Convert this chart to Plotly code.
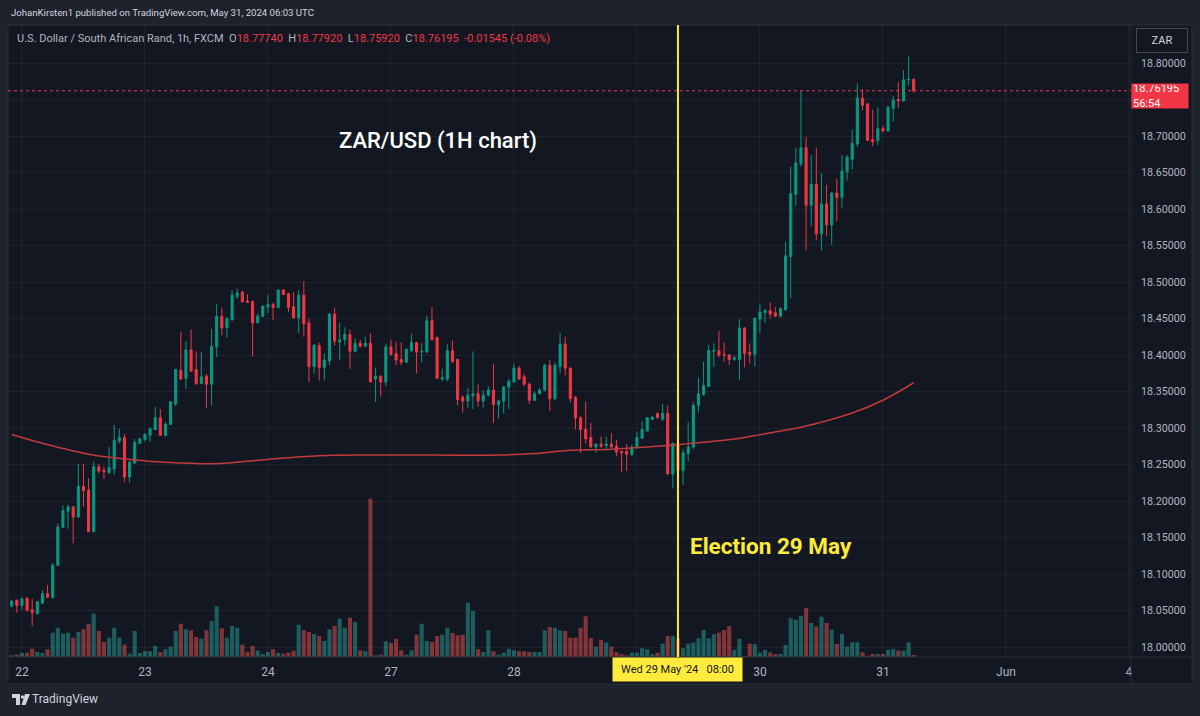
import plotly.graph_objects as go

# ---------------- data ----------------
open_ = [18.056, 18.064, 18.057, 18.067, 18.051, 18.046, 18.060, 18.073, 18.068, 18.112,
         18.164, 18.186, 18.192, 18.178, 18.220, 18.215, 18.158, 18.247, 18.242, 18.239,
         18.244, 18.282, 18.287, 18.233, 18.252, 18.279, 18.284, 18.290, 18.298, 18.314,
         18.290, 18.305, 18.333, 18.379, 18.368, 18.407, 18.380, 18.361, 18.371, 18.360,
         18.411, 18.453, 18.437, 18.448, 18.480, 18.486, 18.474, 18.473, 18.444, 18.453,
         18.466, 18.469, 18.465, 18.489, 18.484, 18.466, 18.451, 18.482, 18.444, 18.384,
         18.413, 18.383, 18.392, 18.456, 18.418, 18.421, 18.428, 18.405, 18.416, 18.412,
         18.416, 18.367, 18.371, 18.363, 18.411, 18.402, 18.394, 18.390, 18.406, 18.417,
         18.404, 18.404, 18.447, 18.424, 18.367, 18.367, 18.406, 18.394, 18.342, 18.337,
         18.344, 18.347, 18.337, 18.345, 18.352, 18.332, 18.337, 18.356, 18.363, 18.382,
         18.370, 18.360, 18.338, 18.347, 18.352, 18.386, 18.340, 18.384, 18.415, 18.382,
         18.342, 18.314, 18.298, 18.287, 18.274, 18.278, 18.276, 18.278, 18.275, 18.268,
         18.268, 18.264, 18.273, 18.286, 18.296, 18.312, 18.320, 18.312, 18.320, 18.237,
         18.279, 18.242, 18.265, 18.274, 18.331, 18.346, 18.357, 18.405, 18.406, 18.401,
         18.400, 18.394, 18.394, 18.437, 18.404, 18.401, 18.449, 18.458, 18.461, 18.458,
         18.453, 18.462, 18.535, 18.620, 18.662, 18.684, 18.605, 18.634, 18.566, 18.607,
         18.578, 18.622, 18.616, 18.651, 18.668, 18.689, 18.752, 18.744, 18.695, 18.694,
         18.710, 18.707, 18.738, 18.750, 18.748, 18.777, 18.7774]
high_ = [18.065, 18.065, 18.068, 18.068, 18.066, 18.063, 18.078, 18.085, 18.115, 18.169,
         18.194, 18.195, 18.193, 18.251, 18.251, 18.231, 18.254, 18.251, 18.247, 18.274,
         18.304, 18.299, 18.292, 18.255, 18.285, 18.287, 18.293, 18.301, 18.329, 18.326,
         18.308, 18.337, 18.381, 18.432, 18.419, 18.435, 18.405, 18.404, 18.374, 18.436,
         18.470, 18.465, 18.452, 18.489, 18.491, 18.488, 18.483, 18.475, 18.457, 18.468,
         18.482, 18.472, 18.490, 18.490, 18.485, 18.486, 18.489, 18.501, 18.450, 18.415,
         18.417, 18.402, 18.457, 18.465, 18.444, 18.438, 18.435, 18.423, 18.421, 18.425,
         18.430, 18.383, 18.372, 18.415, 18.421, 18.418, 18.417, 18.409, 18.429, 18.418,
         18.416, 18.454, 18.466, 18.425, 18.381, 18.415, 18.420, 18.395, 18.345, 18.355,
         18.405, 18.360, 18.352, 18.357, 18.388, 18.339, 18.358, 18.367, 18.388, 18.385,
         18.374, 18.362, 18.350, 18.355, 18.388, 18.393, 18.390, 18.430, 18.425, 18.383,
         18.344, 18.316, 18.336, 18.307, 18.279, 18.288, 18.288, 18.293, 18.284, 18.269,
         18.278, 18.277, 18.295, 18.309, 18.315, 18.316, 18.321, 18.333, 18.331, 18.280,
         18.300, 18.271, 18.308, 18.336, 18.369, 18.391, 18.414, 18.416, 18.433, 18.417,
         18.401, 18.399, 18.449, 18.438, 18.416, 18.452, 18.470, 18.463, 18.472, 18.466,
         18.465, 18.555, 18.658, 18.684, 18.762, 18.698, 18.674, 18.684, 18.649, 18.633,
         18.623, 18.641, 18.674, 18.674, 18.709, 18.772, 18.764, 18.745, 18.736, 18.739,
         18.714, 18.742, 18.755, 18.774, 18.790, 18.809, 18.7792]
low_ = [18.054, 18.047, 18.051, 18.049, 18.029, 18.044, 18.059, 18.067, 18.066, 18.111,
        18.163, 18.162, 18.142, 18.177, 18.192, 18.158, 18.157, 18.238, 18.230, 18.237,
        18.236, 18.279, 18.226, 18.225, 18.251, 18.278, 18.282, 18.281, 18.297, 18.290,
        18.288, 18.304, 18.330, 18.366, 18.354, 18.377, 18.359, 18.360, 18.327, 18.331,
        18.397, 18.427, 18.424, 18.447, 18.477, 18.472, 18.472, 18.398, 18.443, 18.452,
        18.457, 18.448, 18.464, 18.482, 18.459, 18.450, 18.430, 18.425, 18.363, 18.374,
        18.365, 18.365, 18.386, 18.413, 18.393, 18.413, 18.381, 18.404, 18.410, 18.411,
        18.363, 18.336, 18.343, 18.357, 18.399, 18.386, 18.386, 18.389, 18.404, 18.375,
        18.390, 18.403, 18.420, 18.368, 18.364, 18.364, 18.389, 18.331, 18.321, 18.327,
        18.326, 18.329, 18.328, 18.343, 18.307, 18.313, 18.320, 18.326, 18.362, 18.366,
        18.357, 18.333, 18.337, 18.346, 18.350, 18.323, 18.338, 18.375, 18.372, 18.335,
        18.298, 18.266, 18.279, 18.273, 18.266, 18.273, 18.269, 18.273, 18.261, 18.239,
        18.241, 18.261, 18.272, 18.285, 18.295, 18.311, 18.313, 18.310, 18.237, 18.217,
        18.239, 18.222, 18.254, 18.271, 18.321, 18.344, 18.356, 18.384, 18.397, 18.391,
        18.386, 18.392, 18.366, 18.383, 18.388, 18.384, 18.430, 18.444, 18.450, 18.452,
        18.452, 18.461, 18.478, 18.604, 18.658, 18.544, 18.577, 18.557, 18.543, 18.563,
        18.551, 18.583, 18.602, 18.639, 18.654, 18.685, 18.735, 18.693, 18.686, 18.688,
        18.705, 18.706, 18.720, 18.738, 18.747, 18.769, 18.7592]
close_ = [18.063, 18.057, 18.066, 18.050, 18.047, 18.062, 18.073, 18.068, 18.112, 18.164,
          18.187, 18.192, 18.178, 18.220, 18.214, 18.158, 18.247, 18.241, 18.240, 18.246,
          18.283, 18.287, 18.233, 18.253, 18.280, 18.285, 18.291, 18.299, 18.314, 18.290,
          18.305, 18.336, 18.380, 18.367, 18.407, 18.378, 18.361, 18.370, 18.360, 18.412,
          18.453, 18.437, 18.450, 18.482, 18.485, 18.473, 18.472, 18.444, 18.453, 18.467,
          18.469, 18.465, 18.489, 18.483, 18.465, 18.451, 18.482, 18.443, 18.384, 18.413,
          18.383, 18.393, 18.456, 18.419, 18.421, 18.428, 18.405, 18.416, 18.412, 18.416,
          18.363, 18.371, 18.363, 18.411, 18.401, 18.393, 18.390, 18.408, 18.417, 18.404,
          18.405, 18.447, 18.421, 18.368, 18.369, 18.406, 18.391, 18.339, 18.337, 18.345,
          18.347, 18.337, 18.345, 18.352, 18.332, 18.337, 18.356, 18.364, 18.382, 18.367,
          18.360, 18.338, 18.347, 18.352, 18.386, 18.340, 18.386, 18.415, 18.382, 18.340,
          18.314, 18.298, 18.285, 18.274, 18.278, 18.275, 18.278, 18.274, 18.267, 18.266,
          18.264, 18.274, 18.287, 18.298, 18.314, 18.315, 18.314, 18.320, 18.237, 18.279,
          18.242, 18.266, 18.274, 18.331, 18.347, 18.358, 18.406, 18.406, 18.400, 18.400,
          18.394, 18.396, 18.437, 18.402, 18.401, 18.450, 18.459, 18.461, 18.456, 18.453,
          18.464, 18.536, 18.621, 18.663, 18.684, 18.605, 18.634, 18.566, 18.607, 18.578,
          18.622, 18.616, 18.652, 18.671, 18.690, 18.752, 18.742, 18.694, 18.692, 18.710,
          18.707, 18.739, 18.749, 18.748, 18.777, 18.7774, 18.76195]
volume = [1.7, 2.3, 4, 4.3, 8.3, 5, 4, 7.7, 24.3, 29.3,
          23.3, 24.3, 19.3, 25, 27.7, 33.3, 43.3, 26, 15, 19.3,
          29.3, 19.3, 12.3, 3.3, 26, 4, 6, 5.7, 11, 5,
          7.7, 10.3, 26, 33.3, 27.7, 26.7, 20, 18.3, 26.7, 36,
          50.7, 28.7, 19.3, 31, 29.3, 12.3, 5, 11, 6.3, 3,
          5, 7.7, 4, 3.3, 4.3, 6.3, 32.3, 26.7, 25, 23,
          21, 16, 27.7, 31, 38.3, 29.3, 39.3, 35, 6.7, 5.7,
          158.3, 1.7, 2.3, 15.7, 14, 18.3, 6.7, 2.3, 6.7, 22.3,
          33.3, 16, 15, 21, 22.3, 29.3, 24, 21.7, 22.3, 54.3,
          46, 7.7, 5, 26.7, 5.7, 2.3, 4.3, 8.3, 6.7, 5.7,
          5.7, 5, 5, 5, 26.7, 30, 29.3, 26.7, 26, 19.3,
          19.3, 29.3, 40.7, 19, 10.3, 17.3, 14.7, 10.3, 4.7, 2.7,
          1.7, 4.3, 4.3, 8.7, 7.7, 2.7, 4.3, 13.3, 21, 21,
          18.7, 8.7, 13.3, 14.3, 18.7, 27, 18.7, 22.7, 24.3, 27,
          31, 7, 18.3, 1, 13.3, 12.7, 4.3, 7, 4.5, 3,
          3, 12, 38.7, 37.3, 41, 49, 34, 30.3, 40.3, 34,
          27.3, 13, 23, 10.3, 14.7, 14.7, 4.7, 1.3, 3, 3,
          3, 7.3, 8, 6.3, 6.3, 14.7, 2]
ma_index = [0, 6, 15, 24, 30, 39, 43, 50, 60, 70, 95, 102, 108, 117, 130, 136, 143,
            150, 154, 164, 170, 176]
ma_value = [18.291, 18.279, 18.264, 18.256, 18.253, 18.251, 18.2525, 18.257, 18.262,
            18.263, 18.263, 18.265, 18.269, 18.271, 18.277, 18.281, 18.287, 18.296,
            18.301, 18.3205, 18.338, 18.362]
day_tick_index = [2, 26, 50, 74, 98, 122, 146, 170, 194, 218]
day_tick_label = ['22', '23', '24', '27', '28', '', '30', '31', 'Jun', '4']  # '29' hidden under the yellow marker label
price_tick_values = [18.00, 18.05, 18.10, 18.15, 18.20, 18.25, 18.30, 18.35, 18.40,
                     18.45, 18.50, 18.55, 18.60, 18.65, 18.70, 18.75, 18.80]
price_tick_hidden = [18.75]  # covered by the current-price tag
election_index = 130

# ---------------- style / layout constants ----------------
W, H = 1200, 716
ML, MR, MT, MB = 8, 69, 25, 59
PW, PH = W - ML - MR, H - MT - MB
BG = '#131722'
FRAME = '#1e222d'
BORDER = '#2a2e39'
GRID = '#1f2330'
UP = '#089981'
DOWN = '#f23645'
TXT = '#d1d4dc'
AX = '#b2b5be'
YEL = '#ffeb3b'
FONT = 'Roboto, Arial, sans-serif'


def px(xp):
    return (xp - ML) / PW


def py(yp):
    return (MT + PH - yp) / PH


def path_px(d):
    out = []
    for t in d.split():
        if ',' in t:
            a, b = t.split(',')
            out.append(f'{px(float(a)):.5f},{py(float(b)):.5f}')
        else:
            out.append(t)
    return ' '.join(out)


idx = list(range(len(open_)))
vol_colors = ['rgba(38,166,154,0.5)' if c >= o else 'rgba(239,83,80,0.5)'
              for o, c in zip(open_, close_)]

fig = go.Figure()
fig.add_trace(go.Bar(x=idx, y=volume, marker=dict(color=vol_colors, line=dict(width=0)),
                     width=0.8, yaxis='y', showlegend=False, hoverinfo='skip'))
fig.add_trace(go.Scatter(x=ma_index, y=ma_value, mode='lines', yaxis='y2',
                         line=dict(color='#c23a3c', width=1.5, shape='spline', smoothing=1.0),
                         showlegend=False, hoverinfo='skip'))
fig.add_trace(go.Candlestick(x=idx, open=open_, high=high_, low=low_, close=close_,
                             yaxis='y2', whiskerwidth=0,
                             increasing=dict(line=dict(color=UP, width=1), fillcolor=UP),
                             decreasing=dict(line=dict(color=DOWN, width=1), fillcolor=DOWN),
                             showlegend=False, hoverinfo='skip'))

x_left = (ML - 11.7) / 5.125
x_right = (ML + PW - 11.7) / 5.125
y_low = 18.80 - (MT + PH - 63) / 730
y_high = 18.80 + (63 - MT) / 730

shapes = []
# frame strips (lighter)
for (x0, x1, y0, y1) in [(-20, W + 20, -20, MT), (-20, ML, -20, H + 20),
                         (-20, W + 20, 684, H + 20), (1192, W + 20, -20, H + 20)]:
    shapes.append(dict(type='rect', xref='paper', yref='paper', x0=px(x0), x1=px(x1),
                       y0=py(y1), y1=py(y0), fillcolor=FRAME, line=dict(width=0), layer='above'))
# borders
shapes.append(dict(type='rect', xref='paper', yref='paper', x0=px(ML), x1=px(1192),
                   y0=py(684), y1=py(MT), line=dict(color=BORDER, width=1), layer='above'))
shapes.append(dict(type='line', xref='paper', yref='paper', x0=px(1131), x1=px(1131),
                   y0=py(684), y1=py(MT), line=dict(color=BORDER, width=1), layer='above'))
shapes.append(dict(type='line', xref='paper', yref='paper', x0=px(ML), x1=px(1192),
                   y0=py(657), y1=py(657), line=dict(color=BORDER, width=1), layer='above'))
# current price dotted line
shapes.append(dict(type='line', xref='paper', yref='y2', x0=0, x1=1,
                   y0=close_[-1], y1=close_[-1], line=dict(color=DOWN, width=1, dash='dot')))
# election vertical line
shapes.append(dict(type='line', xref='x', yref='paper', x0=election_index, x1=election_index,
                   y0=0, y1=1, line=dict(color=YEL, width=2)))
# TradingView logo
shapes.append(dict(type='path', xref='paper', yref='paper',
                   path=path_px('M 12,694 L 20,694 L 20,705 L 16,705 L 16,698 L 12,698 Z'),
                   fillcolor=TXT, line=dict(width=0), layer='above'))
shapes.append(dict(type='circle', xref='paper', yref='paper', x0=px(20.8), x1=px(24.2),
                   y0=py(698.7), y1=py(695.3), fillcolor=TXT, line=dict(width=0), layer='above'))
shapes.append(dict(type='path', xref='paper', yref='paper',
                   path=path_px('M 25,694 L 30,694 L 25.5,705 L 21.5,705 Z'),
                   fillcolor=TXT, line=dict(width=0), layer='above'))

chg = close_[-1] - close_[-2]
pct = chg / close_[-2] * 100
red = lambda s: f'<span style="color:{DOWN}">{s}</span>'
legend_line = ('U.S. Dollar / South African Rand, 1h, FXCM&nbsp;&nbsp;'
               f'O{red(f"{open_[-1]:.5f}")}&nbsp;&nbsp;H{red(f"{high_[-1]:.5f}")}&nbsp;&nbsp;'
               f'L{red(f"{low_[-1]:.5f}")}&nbsp;&nbsp;C{red(f"{close_[-1]:.5f}")}&nbsp;&nbsp;'
               f'{red(f"{chg:+.5f} ({pct:+.2f}%)")}')

annotations = [
    dict(xref='paper', yref='paper', x=px(9), y=py(13), xanchor='left', yanchor='middle',
         text='JohanKirsten1 published on TradingView.com, May 31, 2024 06:03 UTC',
         showarrow=False, font=dict(family=FONT, size=9.6, color=TXT)),
    dict(xref='paper', yref='paper', x=px(15), y=py(38), xanchor='left', yanchor='middle',
         text=legend_line, showarrow=False, font=dict(family=FONT, size=11, color=AX)),
    dict(xref='paper', yref='paper', x=px(1162), y=py(40), xanchor='center', yanchor='middle',
         text='ZAR', showarrow=False, width=46, height=19, bgcolor=BG,
         bordercolor='#434651', borderwidth=1, borderpad=2,
         font=dict(family=FONT, size=11, color=TXT)),
    dict(xref='paper', yref='paper', x=px(1131), y=py(96), xanchor='left', yanchor='middle',
         text=f'{close_[-1]:.5f}<br>56:54', showarrow=False, align='left', width=54, height=22,
         bgcolor=DOWN, borderpad=1, font=dict(family=FONT, size=11, color='#ffffff')),
    dict(xref='paper', yref='paper', x=px(437.5), y=py(141), xanchor='center', yanchor='middle',
         text='ZAR/USD (1H chart)', showarrow=False,
         font=dict(family=FONT, size=22, color='#ffffff', weight=500)),
    dict(xref='paper', yref='paper', x=px(688), y=py(546), xanchor='left', yanchor='middle',
         text='Election 29 May', showarrow=False,
         font=dict(family=FONT, size=22.5, color=YEL, weight='bold')),
    dict(xref='x', yref='paper', x=election_index, y=py(669.5), xanchor='center', yanchor='middle',
         text="Wed 29 May '24&nbsp;&nbsp;&nbsp;08:00", showarrow=False, width=125, height=19,
         bgcolor=YEL, borderpad=2, font=dict(family=FONT, size=11, color='#131722')),
    dict(xref='paper', yref='paper', x=px(30), y=py(699), xanchor='left', yanchor='middle',
         text='TradingView', showarrow=False, font=dict(family=FONT, size=12, color=TXT)),
]

fig.update_layout(
    width=W, height=H, margin=dict(l=ML, r=MR, t=MT, b=MB, pad=0),
    paper_bgcolor=BG, plot_bgcolor=BG, showlegend=False, boxgap=0.42,
    font=dict(family=FONT, color=AX, size=11),
    xaxis=dict(range=[x_left, x_right], tickmode='array', tickvals=day_tick_index,
               ticktext=day_tick_label, showgrid=True, gridcolor=GRID, gridwidth=1,
               zeroline=False, showline=False, ticks='', ticklabelstandoff=6,
               tickfont=dict(family=FONT, size=12, color=AX),
               rangeslider=dict(visible=False), fixedrange=True),
    yaxis=dict(range=[0, PH], visible=False, showgrid=False, zeroline=False, fixedrange=True),
    yaxis2=dict(range=[y_low, y_high], overlaying='y', side='right', tickmode='array',
                tickvals=price_tick_values,
                ticktext=['' if v in price_tick_hidden else f'{v:.5f}' for v in price_tick_values],
                showgrid=True, gridcolor=GRID, gridwidth=1, zeroline=False, showline=False,
                ticks='', ticklabelstandoff=9, tickfont=dict(family=FONT, size=10.7, color=AX),
                fixedrange=True),
    shapes=shapes, annotations=annotations,
)

fig.write_html('out.html', config={'displayModeBar': False, 'staticPlot': True},
               post_script="document.body.style.margin='0';document.body.style.padding='0';"
                           "document.body.style.overflow='hidden';"
                           "document.body.style.background='#1e222d';")
